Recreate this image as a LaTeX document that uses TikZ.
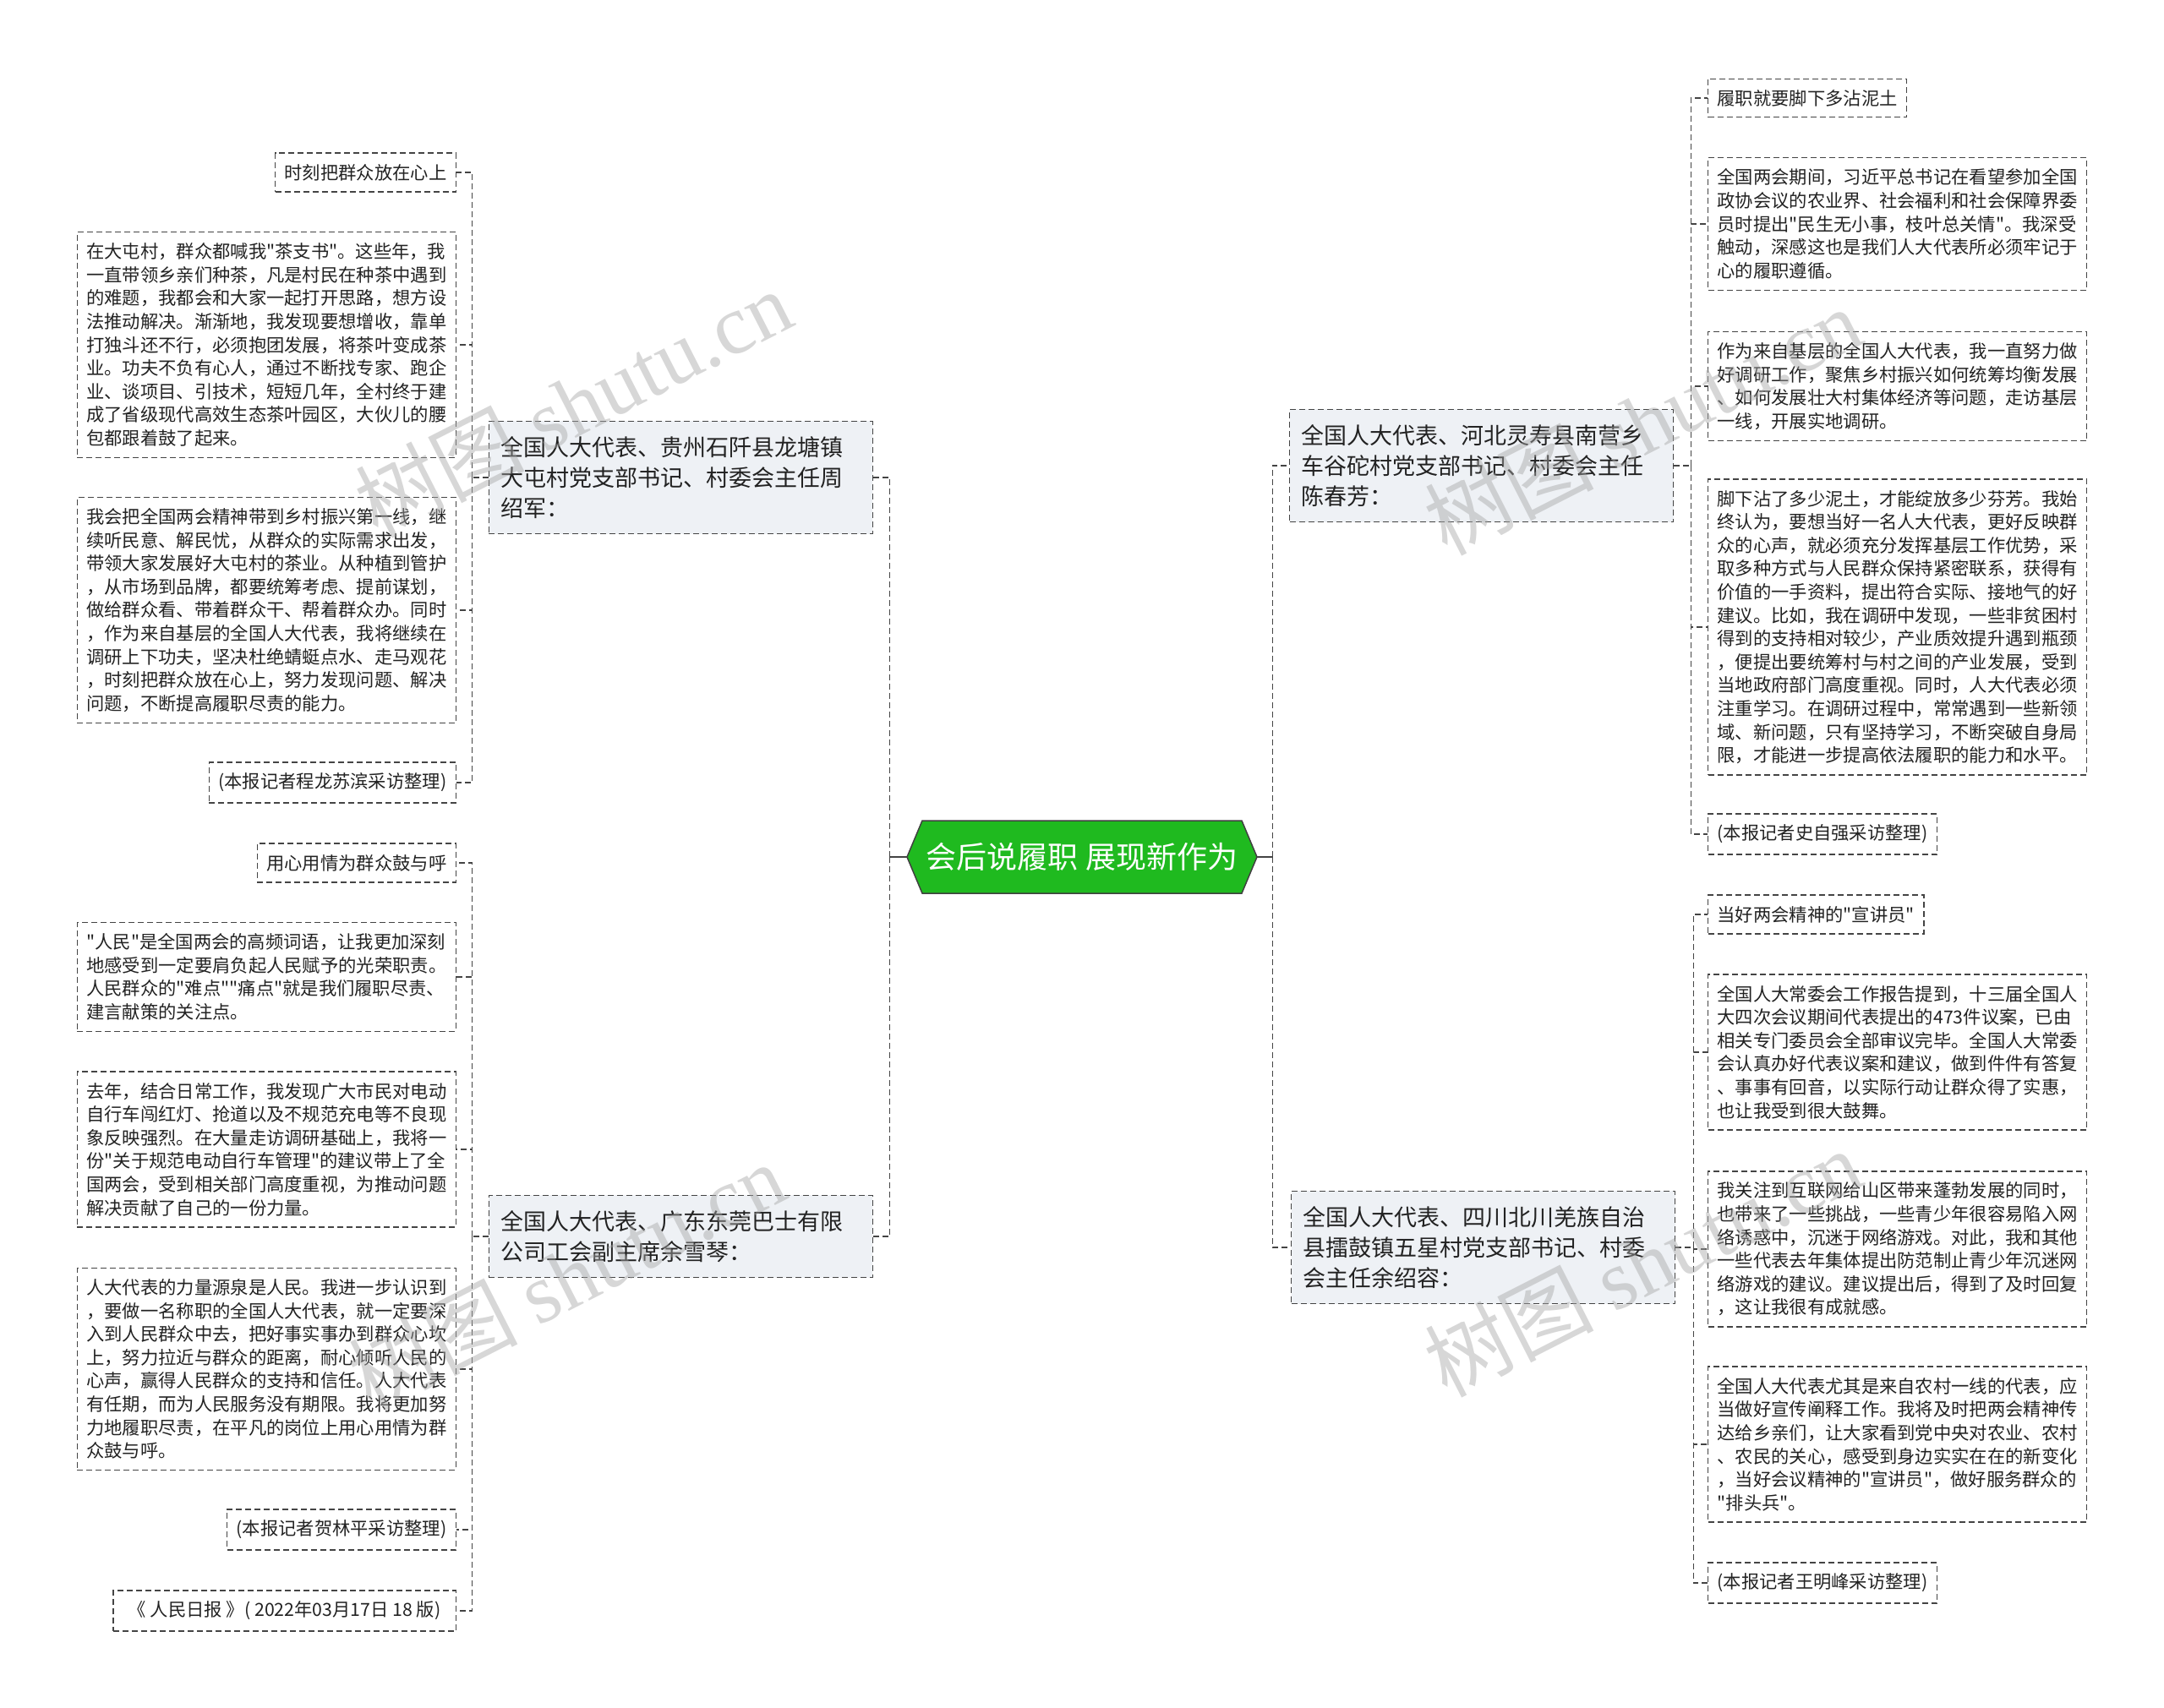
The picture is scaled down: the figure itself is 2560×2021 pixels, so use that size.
\documentclass[tikz,border=0pt]{standalone}
\usepackage{fontspec}
\newfontfamily\cjk{Noto Sans CJK SC}
\newfontfamily\wmfont{Liberation Serif}
\usetikzlibrary{calc}
\definecolor{rootgreen}{HTML}{1FBA1F}
\definecolor{branchgray}{HTML}{EEF1F5}
\definecolor{linegray}{HTML}{444444}
\definecolor{inkgray}{HTML}{222222}

\begin{document}
\begin{tikzpicture}[x=1pt,y=-1pt,
  link/.style={draw=linegray,line width=1.3pt,dash pattern=on 7pt off 4pt},
  leaf/.style={draw=linegray,line width=1.3pt,dash pattern=on 7pt off 4pt,fill=white,
    text=inkgray,font=\cjk\fontsize{21.3}{27.6}\selectfont,inner xsep=11pt,inner ysep=13pt,align=left},
  para/.style={leaf,text width=426pt},
  branch/.style={leaf,fill=branchgray,font=\cjk\fontsize{27}{36}\selectfont,text width=426pt,
    inner xsep=14pt,inner ysep=18pt},
  wmark/.style={text=black!35,opacity=0.45,font=\cjk\fontsize{100}{100}\selectfont,rotate=27}]
  \useasboundingbox (0,0) rectangle (2560,2021);
  % Root
  \filldraw[fill=rootgreen,draw=black!75,line width=1.5pt]
    (1073,1014) -- (1091,971) -- (1469,971) -- (1487,1014) -- (1469,1057) -- (1091,1057) -- cycle;
  \node[text=white,font=\cjk\fontsize{36}{40}\selectfont,minimum width=414pt,minimum height=86pt,inner sep=0pt]
    (root) at (1280,1014) {会后说履职 展现新作为};
  % Branches
  \node[branch,anchor=east] (b1) at (1033,565) {全国人大代表、贵州石阡县龙塘镇\\大屯村党支部书记、村委会主任周\\绍军：};
  \node[branch,anchor=east] (b2) at (1033,1463) {全国人大代表、广东东莞巴士有限\\公司工会副主席余雪琴：};
  \node[branch,anchor=west] (b3) at (1525,551) {全国人大代表、河北灵寿县南营乡\\车谷砣村党支部书记、村委会主任\\陈春芳：};
  \node[branch,anchor=west] (b4) at (1527,1476) {全国人大代表、四川北川羌族自治\\县擂鼓镇五星村党支部书记、村委\\会主任余绍容：};
  % Left leaves, first branch
  \node[leaf,anchor=east] (l1) at (540,204) {时刻把群众放在心上};
  \node[para,anchor=east] (l2) at (540,408) {在大屯村，群众都喊我"茶支书"。这些年，我\\一直带领乡亲们种茶，凡是村民在种茶中遇到\\的难题，我都会和大家一起打开思路，想方设\\法推动解决。渐渐地，我发现要想增收，靠单\\打独斗还不行，必须抱团发展，将茶叶变成茶\\业。功夫不负有心人，通过不断找专家、跑企\\业、谈项目、引技术，短短几年，全村终于建\\成了省级现代高效生态茶叶园区，大伙儿的腰\\包都跟着鼓了起来。};
  \node[para,anchor=east] (l3) at (540,722) {我会把全国两会精神带到乡村振兴第一线，继\\续听民意、解民忧，从群众的实际需求出发，\\带领大家发展好大屯村的茶业。从种植到管护\\，从市场到品牌，都要统筹考虑、提前谋划，\\做给群众看、带着群众干、帮着群众办。同时\\，作为来自基层的全国人大代表，我将继续在\\调研上下功夫，坚决杜绝蜻蜓点水、走马观花\\，时刻把群众放在心上，努力发现问题、解决\\问题，不断提高履职尽责的能力。};
  \node[leaf,anchor=east] (l4) at (540,926) {(本报记者程龙苏滨采访整理)};
  % Left leaves, second branch
  \node[leaf,anchor=east] (l5) at (540,1021) {用心用情为群众鼓与呼};
  \node[para,anchor=east] (l6) at (540,1156) {"人民"是全国两会的高频词语，让我更加深刻\\地感受到一定要肩负起人民赋予的光荣职责。\\人民群众的"难点""痛点"就是我们履职尽责、\\建言献策的关注点。};
  \node[para,anchor=east] (l7) at (540,1360) {去年，结合日常工作，我发现广大市民对电动\\自行车闯红灯、抢道以及不规范充电等不良现\\象反映强烈。在大量走访调研基础上，我将一\\份"关于规范电动自行车管理"的建议带上了全\\国两会，受到相关部门高度重视，为推动问题\\解决贡献了自己的一份力量。};
  \node[para,anchor=east] (l8) at (540,1620) {人大代表的力量源泉是人民。我进一步认识到\\，要做一名称职的全国人大代表，就一定要深\\入到人民群众中去，把好事实事办到群众心坎\\上，努力拉近与群众的距离，耐心倾听人民的\\心声，赢得人民群众的支持和信任。人大代表\\有任期，而为人民服务没有期限。我将更加努\\力地履职尽责，在平凡的岗位上用心用情为群\\众鼓与呼。};
  \node[leaf,anchor=east] (l9) at (540,1810) {(本报记者贺林平采访整理)};
  \node[leaf,anchor=east,inner xsep=18pt] (l10) at (540,1906) {《 人民日报 》( 2022年03月17日 18 版)};
  % Right leaves, first branch
  \node[leaf,anchor=west] (r1) at (2020,116) {履职就要脚下多沾泥土};
  \node[para,anchor=west] (r2) at (2020,265) {全国两会期间，习近平总书记在看望参加全国\\政协会议的农业界、社会福利和社会保障界委\\员时提出"民生无小事，枝叶总关情"。我深受\\触动，深感这也是我们人大代表所必须牢记于\\心的履职遵循。};
  \node[para,anchor=west] (r3) at (2020,457) {作为来自基层的全国人大代表，我一直努力做\\好调研工作，聚焦乡村振兴如何统筹均衡发展\\、如何发展壮大村集体经济等问题，走访基层\\一线，开展实地调研。};
  \node[para,anchor=west] (r4) at (2020,742) {脚下沾了多少泥土，才能绽放多少芬芳。我始\\终认为，要想当好一名人大代表，更好反映群\\众的心声，就必须充分发挥基层工作优势，采\\取多种方式与人民群众保持紧密联系，获得有\\价值的一手资料，提出符合实际、接地气的好\\建议。比如，我在调研中发现，一些非贫困村\\得到的支持相对较少，产业质效提升遇到瓶颈\\，便提出要统筹村与村之间的产业发展，受到\\当地政府部门高度重视。同时，人大代表必须\\注重学习。在调研过程中，常常遇到一些新领\\域、新问题，只有坚持学习，不断突破自身局\\限，才能进一步提高依法履职的能力和水平。};
  \node[leaf,anchor=west] (r5) at (2020,987) {(本报记者史自强采访整理)};
  % Right leaves, second branch
  \node[leaf,anchor=west] (r6) at (2020,1082) {当好两会精神的"宣讲员"};
  \node[para,anchor=west] (r7) at (2020,1245) {全国人大常委会工作报告提到，十三届全国人\\大四次会议期间代表提出的473件议案，已由\\相关专门委员会全部审议完毕。全国人大常委\\会认真办好代表议案和建议，做到件件有答复\\、事事有回音，以实际行动让群众得了实惠，\\也让我受到很大鼓舞。};
  \node[para,anchor=west] (r8) at (2020,1478) {我关注到互联网给山区带来蓬勃发展的同时，\\也带来了一些挑战，一些青少年很容易陷入网\\络诱惑中，沉迷于网络游戏。对此，我和其他\\一些代表去年集体提出防范制止青少年沉迷网\\络游戏的建议。建议提出后，得到了及时回复\\，这让我很有成就感。};
  \node[para,anchor=west] (r9) at (2020,1709) {全国人大代表尤其是来自农村一线的代表，应\\当做好宣传阐释工作。我将及时把两会精神传\\达给乡亲们，让大家看到党中央对农业、农村\\、农民的关心，感受到身边实实在在的新变化\\，当好会议精神的"宣讲员"，做好服务群众的\\"排头兵"。};
  \node[leaf,anchor=west] (r10) at (2020,1873) {(本报记者王明峰采访整理)};
  % Connectors
  \draw[linegray,line width=1.5pt] (root.west) -- ++(-20,0) coordinate (lhub);
  \draw[linegray,line width=1.5pt] (root.east) -- ++(18,0) coordinate (rhub);
  \draw[link] (lhub) |- (b1.east);
  \draw[link] (lhub) |- (b2.east);
  \draw[link] (rhub) |- (b3.west);
  \draw[link] (rhub) |- (b4.west);
  \draw[link] (b1.west) -- ++(-19,0) coordinate (h1);
  \draw[link] (b2.west) -- ++(-19,0) coordinate (h2);
  \draw[link] (b3.east) -- ++(20,0) coordinate (h3);
  \draw[link] (b4.east) -- ++(21,0) coordinate (h4);
  \foreach \n in {l1,l2,l3,l4} \draw[link] (h1) |- (\n.east);
  \foreach \n in {l5,l6,l7,l8,l9,l10} \draw[link] (h2) |- (\n.east);
  \foreach \n in {r1,r2,r3,r4,r5} \draw[link] (h3) |- (\n.west);
  \foreach \n in {r6,r7,r8,r9,r10} \draw[link] (h4) |- (\n.west);
  % Watermarks
  \node[wmark] (wm1) at (678,477) {树图 {\wmfont shutu.cn}};
  \node[wmark] (wm2) at (670,1510) {树图 {\wmfont shutu.cn}};
  \node[wmark] (wm3) at (1943,498) {树图 {\wmfont shutu.cn}};
  \node[wmark] (wm4) at (1943,1494) {树图 {\wmfont shutu.cn}};
\end{tikzpicture}
\end{document}
